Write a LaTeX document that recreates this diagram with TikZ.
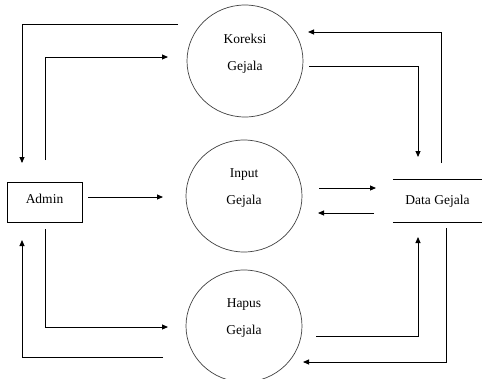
\documentclass[tikz,border=0pt]{standalone}
\usepackage{fontspec}
\setmainfont{Liberation Serif}
\usetikzlibrary{shapes.geometric,arrows.meta}
\tikzset{
  txt/.style={font=\fontsize{13.5}{27}\selectfont},
  proc/.style={ellipse,draw=black!75,line width=0.7pt,minimum width=116pt,minimum height=112pt,inner sep=0pt},
  entity/.style={rectangle,draw=black,line width=0.8pt,minimum width=75pt,minimum height=40pt,inner sep=0pt,txt},
  store/.style={rectangle,minimum width=89pt,minimum height=42pt,inner sep=0pt,txt},
  flow/.style={draw=black,line width=0.9pt,-{Triangle[length=6pt,width=5pt]}},
}
\begin{document}
\begin{tikzpicture}[x=1pt,y=-1pt]
\useasboundingbox (0,0) rectangle (482,378);

% processes
\node[proc,label={[txt,align=center,yshift=7pt]center:Koreksi\\Gejala}] (kor) at (245,61) {};
\node[proc,label={[txt,align=center,yshift=8pt]center:Input\\Gejala}] (inp) at (244,196) {};
\node[proc,label={[txt,align=center,yshift=8pt]center:Hapus\\Gejala}] (hap) at (244,326) {};

% external entity
\node[entity] (admin) at (44.5,202) {\raisebox{7pt}{Admin}};

% data store
\node[store] (data) at (437.5,201) {Data Gejala};
\draw[line width=0.9pt] (data.north west) -- (data.north east);
\draw[line width=0.9pt] (data.south west) -- (data.south east);

% Koreksi flows
\draw[flow] ([shift={(-67,-37)}]kor.center) -| ([shift={(-22.5,-39)}]admin.center);
\draw[flow] ([shift={(0.5,-42)}]admin.center) |- ([shift={(-77,-4)}]kor.center);
\draw[flow] ([shift={(64,5)}]kor.center) -| ([shift={(-19.5,-44)}]data.center);
\draw[flow] ([shift={(3.5,-38)}]data.center) |- ([shift={(63,-29)}]kor.center);

% Input flows
\draw[flow] ([shift={(43.5,-5)}]admin.center) -- ([shift={(-81,1)}]inp.center);
\draw[flow] ([shift={(75,-8)}]inp.center) -- ([shift={(-61.5,-13)}]data.center);
\draw[flow] ([shift={(-63.5,12)}]data.center) -- ([shift={(74,17)}]inp.center);

% Hapus flows
\draw[flow] ([shift={(0.5,27)}]admin.center) |- ([shift={(-76,1)}]hap.center);
\draw[flow] ([shift={(-81,31)}]hap.center) -| ([shift={(-22.5,38)}]admin.center);
\draw[flow] ([shift={(72,10)}]hap.center) -| ([shift={(-19.5,36)}]data.center);
\draw[flow] ([shift={(8.5,27)}]data.center) |- ([shift={(59,36)}]hap.center);
\end{tikzpicture}
\end{document}
